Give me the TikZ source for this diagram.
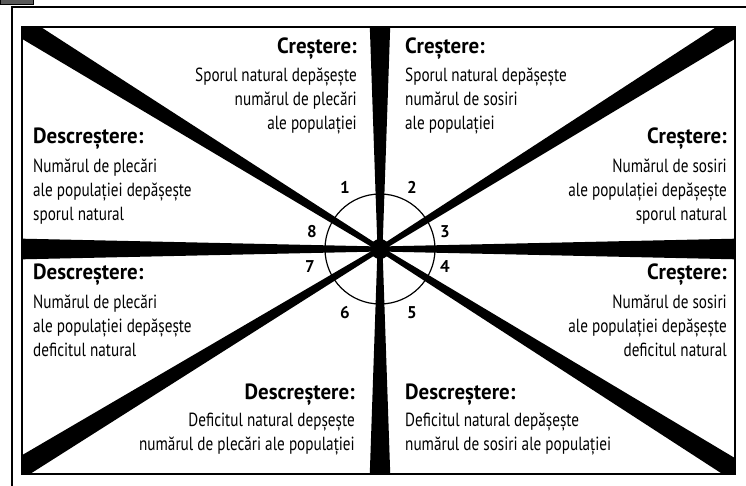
\documentclass[tikz,border=0pt]{standalone}
\usepackage{fontspec}
\usetikzlibrary{calc}
\setmainfont{PT Sans}
\newfontfamily\corp{PT Sans}[FakeStretch=0.8]
\newfontfamily\gros{PT Sans}[FakeStretch=0.95]
\newcommand{\titlu}[0]{\fontsize{22}{24}\selectfont\gros\bfseries}
\newcommand{\rand}[0]{\fontsize{19}{24}\selectfont\corp}
\newcommand{\raza}[1]{\fill ($(C)!2.5pt!90:(#1)$) -- ($(#1)!10.5pt!-90:(C)$)
 	-- ($(#1)!10.5pt!90:(C)$) -- ($(C)!2.5pt!-90:(#1)$) -- cycle}
\tikzset{cadran/.style={inner sep=0pt, font=\rand},
	nr/.style={font=\fontsize{17}{17}\selectfont\bfseries}}

\begin{document}
\begin{tikzpicture}[x=1pt,y=-1pt]
	\useasboundingbox (0,0) rectangle (746,486);
	\fill[black!65, draw=black] (0,-1) rectangle (33,4);
	\draw[line width=1.2] (12,486) -- (12,7) -- (746,7);
	\coordinate (C) at (380,249);
	\coordinate (N) at (380,18);
	\coordinate (S) at (380,482);
	\coordinate (V) at (14,249);
	\coordinate (E) at (744,249);
	\coordinate (NV) at ($(C)!1.04!(22,27)$);
	\coordinate (NE) at ($(C)!1.04!(735,27)$);
	\coordinate (SV) at ($(C)!1.04!(22,467)$);
	\coordinate (SE) at ($(C)!1.04!(735,470)$);
	\begin{scope}
		\clip (22,27) rectangle (735,474);
		\raza{N};
		\raza{S};
		\raza{V};
		\raza{E};
		\raza{NV};
		\raza{NE};
		\raza{SV};
		\raza{SE};
	\end{scope}
	\draw[line width=1.8] (22,27) rectangle (735,474);
	\draw[line width=1.2] (C) circle (55pt);
	\fill (C) circle (10pt);
	\node[nr] (n1) at (345,187) {1};
	\node[nr] (n2) at (412,187) {2};
	\node[nr] (n3) at (445,232) {3};
	\node[nr] (n4) at (445,267) {4};
	\node[nr] (n5) at (412,313) {5};
	\node[nr] (n6) at (345,313) {6};
	\node[nr] (n7) at (310,267) {7};
	\node[nr] (n8) at (312,232) {8};
	\node[cadran, anchor=north east, align=right] (c1) at (357,38)
		{{\titlu Creștere:}\\[4pt]Sporul natural depășește\\numărul de plecări\\ale populației};
	\node[cadran, anchor=north west, align=left] (c2) at (405,38)
		{{\titlu Creștere:}\\[4pt]Sporul natural depășește\\numărul de sosiri\\ale populației};
	\node[cadran, anchor=north east, align=right] (c3) at (727,128)
		{{\titlu Creștere:}\\[5pt]Numărul de sosiri\\ale populației depășește\\sporul natural};
	\node[cadran, anchor=north east, align=right] (c4) at (727,264)
		{{\titlu Creștere:}\\[5pt]Numărul de sosiri\\ale populației depășește\\deficitul natural};
	\node[cadran, anchor=north west, align=left] (c5) at (405,384)
		{{\titlu Descreștere:}\\[3pt]Deficitul natural depășește\\numărul de sosiri ale populației};
	\node[cadran, anchor=north east, align=right] (c6) at (355,384)
		{{\titlu Descreștere:}\\[3pt]Deficitul natural depșește\\numărul de plecări ale populației};
	\node[cadran, anchor=north west, align=left] (c7) at (33,264)
		{{\titlu Descreștere:}\\[5pt]Numărul de plecări\\ale populației depășește\\deficitul natural};
	\node[cadran, anchor=north west, align=left] (c8) at (33,128)
		{{\titlu Descreștere:}\\[5pt]Numărul de plecări\\ale populației depășește\\sporul natural};
\end{tikzpicture}
\end{document}
